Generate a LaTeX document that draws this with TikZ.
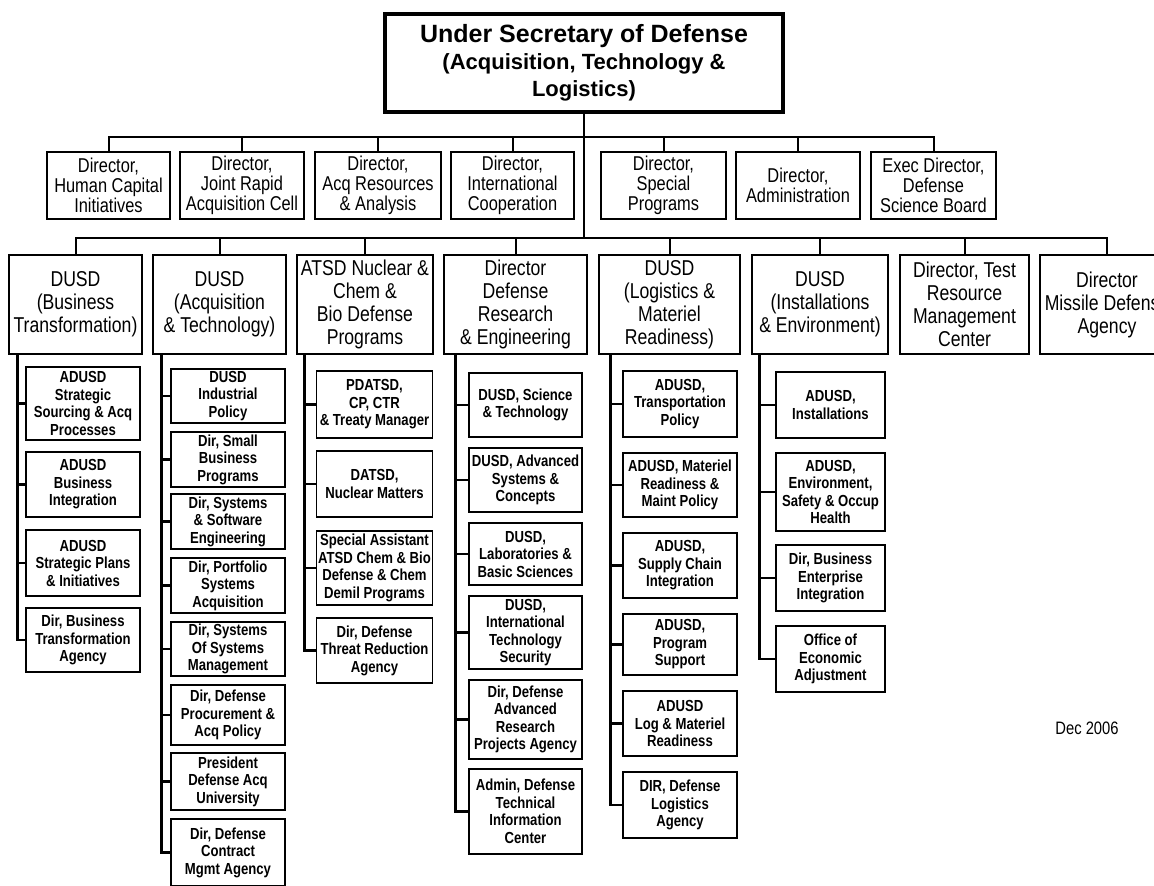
\documentclass[tikz,border=0pt]{standalone}
\usepackage{fontspec}
\setmainfont{Liberation Sans}[FakeStretch=0.82]
\newfontfamily\widefont{Liberation Sans}

\begin{document}
\begin{tikzpicture}[x=1pt, y=-1pt,
  box/.style={draw, line width=1.5pt, align=center, inner sep=0pt},
  headbox/.style={box, font=\fontsize{20}{20}\selectfont},
  dusdbox/.style={box, font=\fontsize{21.5}{23}\selectfont},
  subbox/.style={box, font=\bfseries\fontsize{16}{17.5}\selectfont},
  link/.style={line width=2pt},
  spine/.style={line width=2.6pt}]
  \useasboundingbox (0,0) rectangle (1154,886);

  \node[box, line width=3.2pt, minimum width=398, minimum height=98,
    font=\widefont\bfseries\fontsize{22}{27}\selectfont] (usd) at (584,63)
    {{\fontsize{25}{28}\selectfont Under Secretary of Defense}\\(Acquisition, Technology \&\\Logistics)};

  \foreach \n/\px/\w/\t in {
    h1/108.5/123/{Director,\\Human Capital\\Initiatives},
    h2/242/124/{Director,\\Joint Rapid\\Acquisition Cell},
    h3/378/126/{Director,\\Acq Resources\\\& Analysis},
    h4/512.5/123/{Director,\\International\\Cooperation},
    h5/663.5/125/{Director,\\Special\\Programs},
    h6/798/124/{Director,\\Administration},
    h7/933.5/125/{Exec Director,\\Defense\\Science Board}} {
    \node[headbox, minimum width=\w, minimum height=67] (\n) at (\px,185.5) {\t};
  }

  \foreach \n/\px/\w/\t in {
    u1/75.5/133/{DUSD\\(Business\\Transformation)},
    u2/219.5/133/{DUSD\\(Acquisition\\\& Technology)},
    u3/365/136/{ATSD Nuclear \&\\Chem \&\\Bio Defense\\Programs},
    u4/515.5/143/{Director\\Defense\\Research\\\& Engineering},
    u5/669.5/141/{DUSD\\(Logistics \&\\Materiel\\Readiness)},
    u6/820/136/{DUSD\\(Installations\\\& Environment)},
    u7/964.5/129/{Director, Test\\Resource\\Management\\Center},
    u8/1107/134/{Director\\Missile Defense\\Agency}} {
    \node[dusdbox, minimum width=\w, minimum height=99] (\n) at (\px,304.5) {\t};
  }

  \coordinate (bar1) at (587,137);
  \coordinate (bar2) at (587,238);
  \draw[link] (usd.south) -- (usd.south |- bar2);
  \foreach \n in {h1,h2,h3,h4,h5,h6,h7}
    \draw[link] (usd.south |- bar1) -| (\n.north);
  \foreach \n in {u1,u2,u3,u4,u5,u6,u7,u8}
    \draw[link] (usd.south |- bar2) -| (\n.north);

  \foreach \n/\py/\h/\t in {
    a1/403.5/73/{ADUSD\\Strategic\\Sourcing \& Acq\\Processes},
    a2/484.5/65/{ADUSD\\Business\\Integration},
    a3/563/66/{ADUSD\\Strategic Plans\\\& Initiatives},
    a4/640/64/{Dir, Business\\Transformation\\Agency}} {
    \node[subbox, minimum width=114, minimum height=\h] (\n) at (83,\py) {\t};
  }

  \foreach \n/\py/\h/\t in {
    b1/396/54/{DUSD\\Industrial\\Policy},
    b2/459.5/55/{Dir, Small\\Business\\Programs},
    b3/521.5/55/{Dir, Systems\\\& Software\\Engineering},
    b4/585.5/55/{Dir, Portfolio\\Systems\\Acquisition},
    b5/649/54/{Dir, Systems\\Of Systems\\Management},
    b6/715/60/{Dir, Defense\\Procurement \&\\Acq Policy},
    b7/781.5/57/{President\\Defense Acq\\University},
    b8/852.5/67/{Dir, Defense\\Contract\\Mgmt Agency}} {
    \node[subbox, minimum width=114, minimum height=\h] (\n) at (228,\py) {\t};
  }

  \foreach \n/\py/\h/\t in {
    c1/404.5/67/{PDATSD,\\CP, CTR\\\& Treaty Manager},
    c2/484/66/{DATSD,\\Nuclear Matters},
    c3/568/74/{Special Assistant\\ATSD Chem \& Bio\\Defense \& Chem\\Demil Programs},
    c4/650.5/65/{Dir, Defense\\Threat Reduction\\Agency}} {
    \node[subbox, minimum width=116, minimum height=\h] (\n) at (374.5,\py) {\t};
  }

  \foreach \n/\py/\h/\t in {
    d1/405/64/{DUSD, Science\\\& Technology},
    d2/480/64/{DUSD, Advanced\\Systems \&\\Concepts},
    d3/554/62/{DUSD,\\Laboratories \&\\Basic Sciences},
    d4/632.5/73/{DUSD,\\International\\Technology\\Security},
    d5/719.5/79/{Dir, Defense\\Advanced\\Research\\Projects Agency},
    d6/811.5/85/{Admin, Defense\\Technical\\Information\\Center}} {
    \node[subbox, minimum width=113, minimum height=\h] (\n) at (525.5,\py) {\t};
  }

  \foreach \n/\py/\h/\t in {
    e1/404/66/{ADUSD,\\Transportation\\Policy},
    e2/485/64/{ADUSD, Materiel\\Readiness \&\\Maint Policy},
    e3/565.5/65/{ADUSD,\\Supply Chain\\Integration},
    e4/644.5/61/{ADUSD,\\Program\\Support},
    e5/723.5/65/{ADUSD\\Log \& Materiel\\Readiness},
    e6/805/66/{DIR, Defense\\Logistics\\Agency}} {
    \node[subbox, minimum width=114, minimum height=\h] (\n) at (680,\py) {\t};
  }

  \foreach \n/\py/\h/\t in {
    f1/405/66/{ADUSD,\\Installations},
    f2/492/78/{ADUSD,\\Environment,\\Safety \& Occup\\Health},
    f3/578/66/{Dir, Business\\Enterprise\\Integration},
    f4/659/66/{Office of\\Economic\\Adjustment}} {
    \node[subbox, minimum width=109, minimum height=\h] (\n) at (830.5,\py) {\t};
  }

  \coordinate (s1) at ([xshift=9pt]u1.south west);
  \coordinate (s2) at ([xshift=9pt]u2.south west);
  \coordinate (s3) at ([xshift=8pt]u3.south west);
  \coordinate (s4) at ([xshift=12pt]u4.south west);
  \coordinate (s5) at ([xshift=12pt]u5.south west);
  \coordinate (s6) at ([xshift=8pt]u6.south west);
  \foreach \n in {a1,a2,a3,a4} \draw[spine] (s1) |- (\n.west);
  \foreach \n in {b1,b2,b3,b4,b5,b6,b7,b8} \draw[spine] (s2) |- (\n.west);
  \foreach \n in {c1,c2,c3,c4} \draw[spine] (s3) |- (\n.west);
  \foreach \n in {d1,d2,d3,d4,d5,d6} \draw[spine] (s4) |- (\n.west);
  \foreach \n in {e1,e2,e3,e4,e5,e6} \draw[spine] (s5) |- (\n.west);
  \foreach \n in {f1,f2,f3,f4} \draw[spine] (s6) |- (\n.west);

  \node[font=\fontsize{18}{18}\selectfont] (date) at (1087,728) {Dec 2006};
\end{tikzpicture}
\end{document}
